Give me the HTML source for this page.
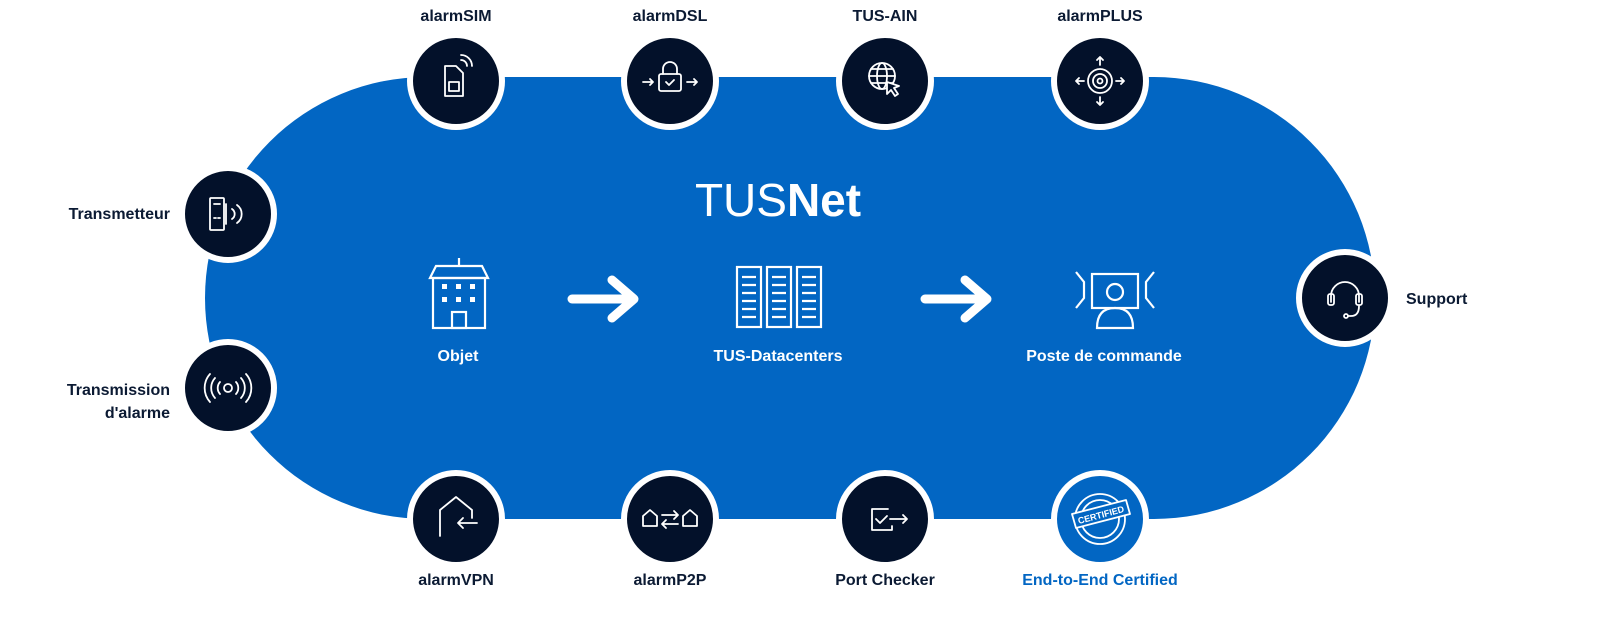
<!DOCTYPE html>
<html><head><meta charset="utf-8"><style>
html,body{margin:0;padding:0;background:#fff;}
body{width:1600px;height:627px;overflow:hidden;font-family:"Liberation Sans",sans-serif;}
</style></head><body>
<svg width="1600" height="627" viewBox="0 0 1600 627" xmlns="http://www.w3.org/2000/svg" font-family="Liberation Sans, sans-serif">
<rect x="205" y="77" width="1170" height="442" rx="221" ry="221" fill="#0266c3"/>
<!-- title -->
<text x="778" y="216" text-anchor="middle" fill="#fff" font-size="46"><tspan>TUS</tspan><tspan font-weight="bold">Net</tspan></text>
<!-- center labels -->
<g fill="#fff" font-size="16" font-weight="bold" text-anchor="middle">
<text x="458" y="361">Objet</text>
<text x="778" y="361">TUS-Datacenters</text>
<text x="1104" y="361">Poste de commande</text>
</g>
<!-- arrows -->
<g stroke="#fff" stroke-width="9" stroke-linecap="round" stroke-linejoin="round" fill="none">
<path d="M572 299 H632 M612 280 L634 299 L612 318"/>
<path d="M925 299 H985 M965 280 L987 299 L965 318"/>
</g>
<!-- building -->
<g stroke="#fff" stroke-width="2.2" fill="none">
<path d="M430 278 L436 266 H482 L488 278 Z"/>
<rect x="433" y="278" width="52" height="50"/>
<rect x="452" y="312" width="14" height="16"/>
<line x1="459" y1="258" x2="459" y2="266"/>
</g>
<g fill="#fff"><rect x="442" y="284" width="5" height="5"/><rect x="456" y="284" width="5" height="5"/><rect x="470" y="284" width="5" height="5"/><rect x="442" y="297" width="5" height="5"/><rect x="456" y="297" width="5" height="5"/><rect x="470" y="297" width="5" height="5"/></g>
<!-- servers -->
<g stroke="#fff" stroke-width="2.2" fill="none">
<rect x="737" y="267" width="24" height="60"/><rect x="767" y="267" width="24" height="60"/><rect x="797" y="267" width="24" height="60"/>
<path d="M742 277h14M742 285h14M742 293h14M742 301h14M742 309h14M742 317h14M772 277h14M772 285h14M772 293h14M772 301h14M772 309h14M772 317h14M802 277h14M802 285h14M802 293h14M802 301h14M802 309h14M802 317h14"/>
</g>
<!-- operator -->
<g stroke="#fff" stroke-width="2.2" fill="none">
<path d="M1076 272 L1084 282 V298 L1076 308"/>
<path d="M1154 272 L1146 282 V298 L1154 308"/>
<rect x="1092" y="274" width="46" height="34"/>
<circle cx="1115" cy="292" r="8"/>
<path d="M1097 328 Q1097 308 1115 308 Q1133 308 1133 328 Z"/>
</g>
<!-- circles -->
<g stroke="#fff" stroke-width="6" fill="#03112a">
<circle cx="456" cy="81" r="46"/><circle cx="670" cy="81" r="46"/><circle cx="885" cy="81" r="46"/><circle cx="1100" cy="81" r="46"/>
<circle cx="228" cy="214" r="46"/><circle cx="228" cy="388" r="46"/>
<circle cx="1345" cy="298" r="46"/>
<circle cx="456" cy="519" r="46"/><circle cx="670" cy="519" r="46"/><circle cx="885" cy="519" r="46"/>
<circle cx="1100" cy="519" r="46" fill="#0266c3"/>
</g>
<!-- icons -->
<g stroke="#fff" stroke-width="1.8" fill="none" stroke-linecap="round" stroke-linejoin="round">
<path d="M445 66 H456 L463 73 V96 H445 Z"/><rect x="449" y="82" width="10" height="9"/>
<path d="M461 60 a6 6 0 0 1 6 6 M461 55 a11 11 0 0 1 11 11"/>
<rect x="659" y="74" width="22" height="17" rx="2"/><path d="M663 74 v-5 a7 7 0 0 1 14 0 v5"/><path d="M666 82 l3 3 l5 -5"/><path d="M643 82 h10 M650 79 l3 3 l-3 3 M687 82 h10 M694 79 l3 3 l-3 3"/>
<circle cx="882" cy="76" r="13"/><ellipse cx="882" cy="76" rx="5" ry="13"/><path d="M869 76 h26 M871 69 h22 M871 83 h22"/><path d="M887 82 l12 4 l-5 2 l4 6 l-3 2 l-4 -6 l-4 4 z" fill="#03112a"/>
<circle cx="1100" cy="81" r="12"/><circle cx="1100" cy="81" r="7"/><circle cx="1100" cy="81" r="2.5"/>
<path d="M1100 57 v8 M1097 60 l3 -3 l3 3 M1100 105 v-8 M1097 102 l3 3 l3 -3 M1076 81 h8 M1079 78 l-3 3 l3 3 M1124 81 h-8 M1121 78 l3 3 l-3 3"/>
<rect x="210" y="198" width="14" height="32" rx="1"/><path d="M214 204 h6 M214 218 h2 M218 218 h2 M226 204 v20"/><path d="M232 209 a6 6 0 0 1 0 10 M237 205 a11 11 0 0 1 0 18"/>
<circle cx="228" cy="388" r="4"/><path d="M220 382 a9 9 0 0 0 0 12 M236 382 a9 9 0 0 1 0 12 M215 378 a15 15 0 0 0 0 20 M241 378 a15 15 0 0 1 0 20 M210 374 a21 21 0 0 0 0 28 M246 374 a21 21 0 0 1 0 28"/>
<path d="M1331 302 v-6 a14 14 0 0 1 28 0 v6"/><rect x="1328" y="294" width="6" height="11" rx="2"/><rect x="1356" y="294" width="6" height="11" rx="2"/><path d="M1359 306 q0 10 -8 10 h-3"/><circle cx="1346" cy="316" r="2"/>
<path d="M440 536 V510 L456 497 L472 510 V518"/><path d="M477 523 H458 M463 518 l-5 5 l5 5"/>
<path d="M643 526 V516 L650 510 L657 516 V526 Z M683 526 V516 L690 510 L697 516 V526 Z"/><path d="M662 515 h16 M674 511 l4 4 l-4 4 M678 524 h-16 M666 520 l-4 4 l4 4"/>
<path d="M888 509 H872 V530 H892 V526"/><path d="M876 519 l4 4 l7 -7"/><path d="M890 519 H907 M903 515 l4 4 l-4 4"/>
<circle cx="1100" cy="519" r="25"/><circle cx="1100" cy="519" r="19"/><path d="M1072 514 L1126 500 L1130 514 L1076 528 Z" fill="#0266c3"/>
</g>
<text x="1101" y="518" text-anchor="middle" fill="#fff" font-size="9" font-weight="bold" transform="rotate(-15 1101 515)">CERTIFIED</text>
<!-- labels -->
<g fill="#0b1a33" font-size="16" font-weight="bold">
<text x="456" y="21" text-anchor="middle">alarmSIM</text>
<text x="670" y="21" text-anchor="middle">alarmDSL</text>
<text x="885" y="21" text-anchor="middle">TUS-AIN</text>
<text x="1100" y="21" text-anchor="middle">alarmPLUS</text>
<text x="170" y="219" text-anchor="end">Transmetteur</text>
<text x="170" y="395" text-anchor="end">Transmission</text>
<text x="170" y="418" text-anchor="end">d'alarme</text>
<text x="1406" y="304">Support</text>
<text x="456" y="585" text-anchor="middle">alarmVPN</text>
<text x="670" y="585" text-anchor="middle">alarmP2P</text>
<text x="885" y="585" text-anchor="middle">Port Checker</text>
<text x="1100" y="585" text-anchor="middle" fill="#0266c3">End-to-End Certified</text>
</g>
</svg>
</body></html>
